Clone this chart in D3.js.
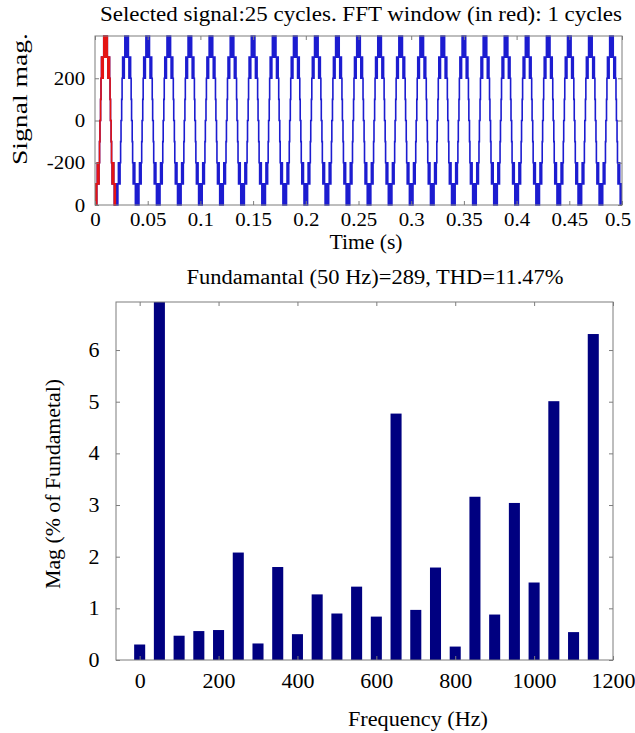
<!DOCTYPE html>
<html>
<head>
<meta charset="utf-8">
<script src="https://cdn.jsdelivr.net/npm/d3@7"></script>
<style>
  body { margin: 0; background: white; }
  svg text { font-family: 'Liberation Serif', 'Times New Roman', serif; fill: black; }
</style>
</head>
<body>
<div id="container"></div>
<script>
// ---- data ----
let harmonicFreqs = [0, 50, 100, 150, 200, 250, 300, 350, 400, 450, 500, 550,
                     600, 650, 700, 750, 800, 850, 900, 950, 1000, 1050, 1100, 1150];
let harmonicMags = [0.30, 100, 0.47, 0.56, 0.58, 2.08, 0.32, 1.80, 0.50, 1.27, 0.90, 1.42,
                    0.84, 4.77, 0.97, 1.79, 0.26, 3.16, 0.88, 3.04, 1.50, 5.01, 0.54, 6.31];
let freqTicks = [0, 200, 400, 600, 800, 1000, 1200];
let magTicks = [0, 1, 2, 3, 4, 5, 6];

let timeTicks = [0, 0.05, 0.1, 0.15, 0.2, 0.25, 0.3, 0.35, 0.4, 0.45, 0.5];
let sigTickVals = [200, 0, -200, -400];
let sigTickText = ['200', '0', '-200', '0'];

// one cycle of the multilevel PWM signal: switching instants (ms from the start of the cycle)
// and the level held after each switch
let cycleTimes = [0, 0.7, 1.0, 1.7, 2.2, 2.5, 3.0, 3.3, 3.8, 4.3, 4.7, 5.3, 5.7,
                  6.2, 6.7, 7.0, 7.5, 7.8, 8.3, 9.0, 9.3, 10.7, 11.0, 11.7,
                  12.2, 12.5, 13.0, 13.3, 13.8, 14.3, 14.7, 15.3, 15.7,
                  16.2, 16.7, 17.0, 17.5, 17.8, 18.3, 19.0, 19.3];
let cycleLevels = [-400, -300, -400, -300, -200, -300, -200, -300, -200, -100, 0, 100, 200,
                   300, 200, 300, 200, 300, 400, 300, 400, 300, 400, 300,
                   200, 300, 200, 300, 200, 100, 0, -100, -200,
                   -300, -200, -300, -200, -300, -400, -300, -400];
let nCycles = 25;
let fftCycles = 1;
let period = 0.02;

let titleTop = 'Selected signal:25 cycles. FFT window (in red): 1 cycles';
let titleBottom = 'Fundamantal (50 Hz)=289, THD=11.47%';

// ---- layout ----
let w = 635, h = 733;
let frameColor = '#7d7d7d';
let serif = "'Liberation Serif', 'Times New Roman', serif";

let viz = d3.select('#container')
  .append('svg')
    .attr('width', w)
    .attr('height', h)
    .attr('font-family', serif)
    .style('background', 'white');

// repeat the cycle over the whole record
let signal = [];
for (let c = 0; c < nCycles; c++) {
  cycleTimes.forEach((t, i) => {
    signal.push({ t: c * period + t / 1000, v: cycleLevels[i] });
  });
}
signal.push({ t: nCycles * period, v: cycleLevels[0] });
let fftWindow = signal.filter(d => d.t <= fftCycles * period + 1e-9);

function label(g, x, y, txt, len, rot) {
  g.append('text')
    .attr('transform', 'translate(' + x + ',' + y + ')' + (rot ? ' rotate(-90)' : ''))
    .attr('text-anchor', 'middle')
    .attr('font-family', serif)
    .attr('font-size', 20)
    .attr('textLength', len)
    .attr('lengthAdjust', 'spacingAndGlyphs')
    .text(txt);
}

function main() {
  // ======== top: signal ========
  let tx = d3.scaleLinear().domain([0, 0.5]).range([95, 622]);
  let ty = d3.scaleLinear().domain([-400, 400]).range([205, 36]);

  let top = viz.append('g');

  top.append('clipPath').attr('id', 'clipTop')
    .append('rect')
      .attr('x', tx.range()[0]).attr('y', ty.range()[1] - 1)
      .attr('width', tx.range()[1] - tx.range()[0])
      .attr('height', ty.range()[0] - ty.range()[1] + 2);

  let line = d3.line()
    .x(d => tx(d.t))
    .y(d => ty(d.v))
    .curve(d3.curveStepAfter);

  let plotTop = top.append('g').attr('clip-path', 'url(#clipTop)');
  plotTop.append('path')
    .datum(signal)
    .attr('d', line)
    .attr('fill', 'none')
    .attr('stroke', '#1c1cd0')
    .attr('stroke-width', 1.6);
  plotTop.append('path')
    .datum(fftWindow)
    .attr('d', line)
    .attr('fill', 'none')
    .attr('stroke', '#e41414')
    .attr('stroke-width', 1.6);

  // axes with inward ticks
  top.append('g')
    .attr('class', 'topx')
    .attr('transform', 'translate(0,' + ty.range()[0] + ')')
    .call(d3.axisBottom(tx).tickValues(timeTicks).tickFormat(d3.format('~g'))
      .tickSizeInner(-4).tickSizeOuter(0).tickPadding(8));
  top.append('g')
    .attr('class', 'topy')
    .attr('transform', 'translate(' + tx.range()[0] + ',0)')
    .call(d3.axisLeft(ty).tickValues(sigTickVals).tickFormat((d, i) => sigTickText[i])
      .tickSizeInner(-4).tickSizeOuter(0).tickPadding(9));
  top.append('g')
    .attr('transform', 'translate(0,' + ty.range()[1] + ')')
    .call(d3.axisTop(tx).tickValues(timeTicks).tickFormat('').tickSizeInner(-4).tickSizeOuter(0));
  top.append('g')
    .attr('transform', 'translate(' + tx.range()[1] + ',0)')
    .call(d3.axisRight(ty).tickValues(sigTickVals).tickFormat('').tickSizeInner(-4).tickSizeOuter(0));

  top.append('rect')
    .attr('x', tx.range()[0]).attr('y', ty.range()[1])
    .attr('width', tx.range()[1] - tx.range()[0])
    .attr('height', ty.range()[0] - ty.range()[1])
    .attr('fill', 'none')
    .attr('stroke', frameColor);

  label(top, 361, 21, titleTop, 522);
  label(top, 366, 249, 'Time (s)', 73);
  label(top, 27, 99, 'Signal mag.', 132, true);

  // ======== bottom: harmonic spectrum ========
  let fx = d3.scaleLinear().domain([-60, 1200]).range([116, 613]);
  let my = d3.scaleLinear().domain([0, 6.93]).range([660, 302]);
  let barHalf = 14; // Hz

  let bot = viz.append('g');

  bot.append('clipPath').attr('id', 'clipBot')
    .append('rect')
      .attr('x', fx.range()[0]).attr('y', my.range()[1])
      .attr('width', fx.range()[1] - fx.range()[0])
      .attr('height', my.range()[0] - my.range()[1]);

  bot.append('g').attr('clip-path', 'url(#clipBot)')
    .selectAll('rect')
    .data(harmonicFreqs)
    .enter()
      .append('rect')
        .attr('x', d => fx(d - barHalf))
        .attr('width', d => fx(d + barHalf) - fx(d - barHalf))
        .attr('y', (d, i) => my(harmonicMags[i]))
        .attr('height', (d, i) => my(0) - my(harmonicMags[i]))
        .attr('fill', '#000080');

  bot.append('g')
    .attr('class', 'botx')
    .attr('transform', 'translate(0,' + my.range()[0] + ')')
    .call(d3.axisBottom(fx).tickValues(freqTicks).tickFormat(d3.format('d'))
      .tickSizeInner(-4).tickSizeOuter(0).tickPadding(14));
  bot.append('g')
    .attr('class', 'boty')
    .attr('transform', 'translate(' + fx.range()[0] + ',0)')
    .call(d3.axisLeft(my).tickValues(magTicks).tickFormat(d3.format('d'))
      .tickSizeInner(-4).tickSizeOuter(0).tickPadding(15));
  bot.append('g')
    .attr('transform', 'translate(0,' + my.range()[1] + ')')
    .call(d3.axisTop(fx).tickValues(freqTicks).tickFormat('').tickSizeInner(-4).tickSizeOuter(0));
  bot.append('g')
    .attr('transform', 'translate(' + fx.range()[1] + ',0)')
    .call(d3.axisRight(my).tickValues(magTicks).tickFormat('').tickSizeInner(-4).tickSizeOuter(0));

  bot.append('rect')
    .attr('x', fx.range()[0]).attr('y', my.range()[1])
    .attr('width', fx.range()[1] - fx.range()[0])
    .attr('height', my.range()[0] - my.range()[1])
    .attr('fill', 'none')
    .attr('stroke', frameColor);

  label(bot, 375, 284, titleBottom, 377);
  label(bot, 418, 726, 'Frequency (Hz)', 140);
  label(bot, 60, 484, 'Mag (% of Fundametal)', 210, true);

  // shared axis styling
  viz.selectAll('.domain').remove();
  viz.selectAll('.tick line').attr('stroke', frameColor);
  viz.selectAll('.tick text')
    .attr('font-family', serif)
    .attr('font-size', 20)
    .attr('fill', 'black')
    .attr('transform', 'scale(1.1,1)');
  viz.selectAll('.topx .tick text, .topy .tick text').attr('font-size', 19);
  // last time label sits a little inside the frame
  viz.selectAll('.topx .tick:last-of-type text').attr('dx', -4);
}

main();
</script>
</body>
</html>
